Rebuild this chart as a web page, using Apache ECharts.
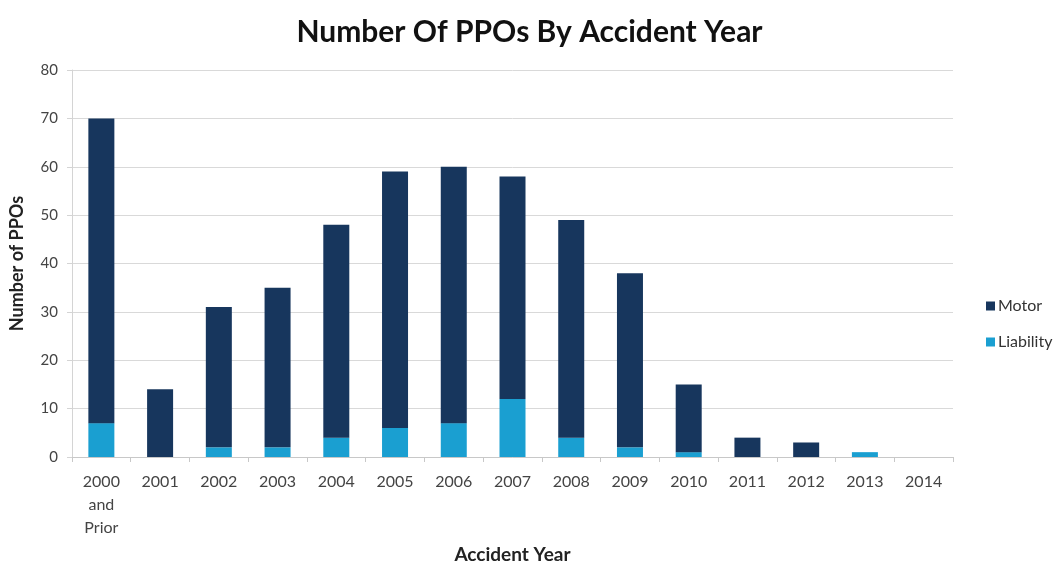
<!DOCTYPE html>
<html>
<head>
<meta charset="utf-8">
<script src="https://cdn.jsdelivr.net/npm/echarts@6/dist/echarts.min.js"></script>
<style>
  html, body { margin: 0; padding: 0; background: #fff; }
  #chart { width: 1059px; height: 568px; }
</style>
</head>
<body>
<div id="chart"></div>
<script>
// Accident years and PPO counts per class of business
const years = ['2000\nand\nPrior', '2001', '2002', '2003', '2004', '2005', '2006', '2007', '2008', '2009', '2010', '2011', '2012', '2013', '2014'];
const liability = [7, 0, 2, 2, 4, 6, 7, 12, 4, 2, 1, 0, 0, 1, 0];
const motor = [63, 14, 29, 33, 44, 53, 53, 46, 45, 36, 14, 4, 3, 0, 0];
const yTicks = [0, 10, 20, 30, 40, 50, 60, 70, 80];

const font = 'Lato, "Open Sans", sans-serif';
const chart = echarts.init(document.getElementById('chart'));

chart.setOption({
  animation: false,
  title: {
    text: 'Number Of PPOs By Accident Year',
    left: 'center',
    top: 12,
    textStyle: { fontFamily: font, fontSize: 30, fontWeight: 'bold', color: '#111' }
  },
  legend: {
    orient: 'vertical',
    left: 981,
    top: 293,
    itemWidth: 9,
    itemHeight: 9,
    itemGap: 20,
    icon: 'rect',
    data: ['Motor', 'Liability'],
    textStyle: { fontFamily: font, fontSize: 16, color: '#333', padding: [0, 0, 0, -2] }
  },
  grid: { left: 72, right: 106, top: 70, bottom: 111, containLabel: false, outerBoundsMode: 'none' },
  xAxis: {
    type: 'category',
    data: years,
    name: 'Accident Year',
    nameLocation: 'middle',
    nameGap: 88,
    nameTextStyle: { fontFamily: font, fontSize: 19, fontWeight: 'bold', color: '#222' },
    axisLine: { lineStyle: { color: '#c8c8c8' } },
    axisTick: { show: true, length: 5, lineStyle: { color: '#c8c8c8' } },
    axisLabel: { fontFamily: font, fontSize: 16, color: '#444', margin: 13, lineHeight: 23, interval: 0 }
  },
  yAxis: {
    type: 'value',
    min: 0,
    max: 80,
    interval: 10,
    name: 'Number of PPOs',
    nameLocation: 'middle',
    nameGap: 46,
    nameTextStyle: { fontFamily: font, fontSize: 18, fontWeight: 'bold', color: '#222' },
    axisLine: { show: true, lineStyle: { color: '#d4d4d4' } },
    axisTick: { show: true, length: 5, lineStyle: { color: '#d4d4d4' } },
    axisLabel: {
      fontFamily: font, fontSize: 15, color: '#444', margin: 14,
      formatter: v => (yTicks.includes(v) ? String(v) : '')
    },
    splitLine: { lineStyle: { color: '#d9d9d9' } }
  },
  series: [
    {
      name: 'Liability',
      type: 'bar',
      stack: 'ppo',
      data: liability,
      barWidth: 26,
      itemStyle: { color: '#1a9fd1' }
    },
    {
      name: 'Motor',
      type: 'bar',
      stack: 'ppo',
      data: motor,
      barWidth: 26,
      itemStyle: { color: '#17365d' }
    }
  ]
});
</script>
</body>
</html>
